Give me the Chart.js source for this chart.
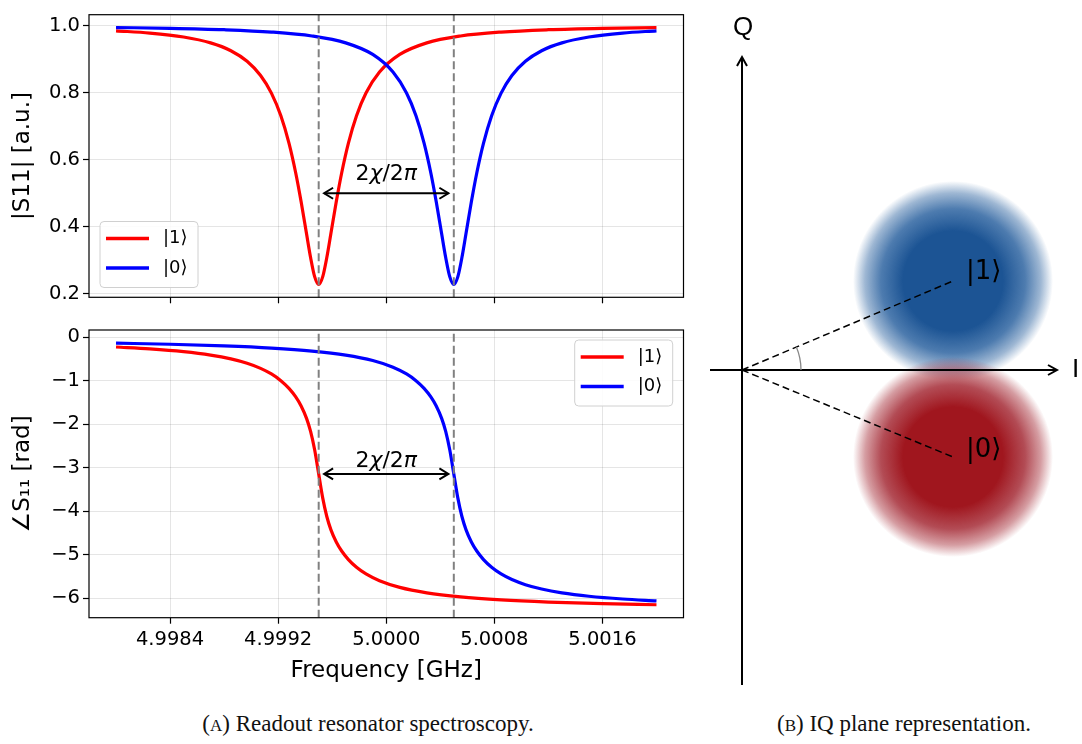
<!DOCTYPE html>
<html>
<head>
<meta charset="utf-8">
<script src="https://cdn.jsdelivr.net/npm/chart.js@4.4.1/dist/chart.umd.min.js"></script>
<style>
html,body{margin:0;padding:0;background:#fff;}
#wrap{position:relative;width:1082px;height:744px;overflow:hidden;background:#fff;}
canvas{position:absolute;}
.cap{position:absolute;font-family:"Liberation Serif","DejaVu Serif",serif;font-size:23px;line-height:23px;color:#111;white-space:nowrap;transform:translateX(-50%);}
.sc{font-size:17px;}
</style>
</head>
<body>
<div id="wrap">
  <canvas id="c1" width="700" height="312" style="left:0;top:0;width:700px;height:312px"></canvas>
  <canvas id="c2" width="700" height="388" style="left:0;top:312px;width:700px;height:388px"></canvas>
  <canvas id="c3" width="382" height="700" style="left:700px;top:0;width:382px;height:700px"></canvas>
  <div class="cap" style="left:368px;top:712px">(<span class="sc">A</span>) Readout resonator spectroscopy.</div>
  <div class="cap" style="left:904px;top:712px">(<span class="sc">B</span>) IQ plane representation.</div>
</div>
<script>
// ---------------- data ----------------
const freqRed = [4.99800,4.99825,4.99850,4.99870,4.99885,4.99897,4.99907,4.99915,4.99922,4.99928,4.99933,4.99937,4.99941,4.99944,4.99947,4.99950,4.99953,4.99956,4.99959,4.99963,4.99967,4.99972,4.99978,4.99985,4.99995,5.00010,5.00030,5.00055,5.00085,5.00120,5.00160,5.00200];
const magRed = [0.9845,0.9779,0.9661,0.9486,0.9252,0.8938,0.8514,0.7988,0.7311,0.6496,0.5605,0.4745,0.3791,0.3083,0.2513,0.2280,0.2513,0.3083,0.3791,0.4745,0.5605,0.6496,0.7311,0.7988,0.8615,0.9140,0.9486,0.9691,0.9809,0.9878,0.9920,0.9943];
const phaseRed = [-0.2231,-0.2666,-0.3309,-0.4092,-0.4966,-0.5964,-0.7136,-0.8428,-0.9967,-1.1738,-1.3704,-1.5788,-1.8629,-2.1634,-2.5866,-3.1416,-3.6966,-4.1198,-4.4203,-4.7044,-4.9128,-5.1094,-5.2865,-5.4404,-5.5963,-5.7493,-5.8740,-5.9674,-6.0359,-6.0859,-6.1232,-6.1485];

const freqBlue = [4.99800,4.99840,4.99880,4.99915,4.99945,4.99970,4.99990,5.00005,5.00015,5.00022,5.00028,5.00033,5.00037,5.00041,5.00044,5.00047,5.00050,5.00053,5.00056,5.00059,5.00063,5.00067,5.00072,5.00078,5.00085,5.00093,5.00103,5.00115,5.00130,5.00150,5.00175,5.00200];
const magBlue = [0.9943,0.9920,0.9878,0.9809,0.9691,0.9486,0.9140,0.8615,0.7988,0.7311,0.6496,0.5605,0.4745,0.3791,0.3083,0.2513,0.2280,0.2513,0.3083,0.3791,0.4745,0.5605,0.6496,0.7311,0.7988,0.8514,0.8938,0.9252,0.9486,0.9661,0.9779,0.9845];
const phaseBlue = [-0.1347,-0.1600,-0.1973,-0.2473,-0.3158,-0.4092,-0.5339,-0.6869,-0.8428,-0.9967,-1.1738,-1.3704,-1.5788,-1.8629,-2.1634,-2.5866,-3.1416,-3.6966,-4.1198,-4.4203,-4.7044,-4.9128,-5.1094,-5.2865,-5.4404,-5.5696,-5.6868,-5.7866,-5.8740,-5.9523,-6.0166,-6.0601];

const seriesLabels = ['|1⟩', '|0⟩'];           // red, blue
const resonances = [4.9995, 5.0005];             // dashed markers
const chiArrowFreqs = [4.99954, 5.00046];        // 2chi/2pi arrow ends
const chiArrowMag = 0.5, chiTextMag = 0.556;
const chiArrowPhase = -3.1416, chiTextPhase = -2.86;

const xTicks = [4.9984, 4.9992, 5.0000, 5.0008, 5.0016];
const magTicks = [0.2, 0.4, 0.6, 0.8, 1.0];
const phaseTicks = [0, -1, -2, -3, -4, -5, -6];

const X_MIN = 4.9978, X_MAX = 5.0022;
const MAG_MIN = 0.1897, MAG_MAX = 1.0326;
const PH_MIN = -6.446, PH_MAX = 0.168;

// IQ plane
const iqStateLabels = ['|1⟩', '|0⟩'];
const iqI = [2.11, 2.11];
const iqQ = [0.89, -0.87];
const blobRadius = 1.0;
const iqAxisI = [-0.32, 3.15];
const iqAxisQ = [-3.15, 3.13];
const IQ_X = [-0.42, 3.40], IQ_Y = [-3.30, 3.70];

// ---------------- helpers ----------------
const RED = '#ff0000', BLUE = '#0000ff', GRAY = '#808080';
const FONT = 'DejaVu Sans';
Chart.defaults.font.family = FONT;
Chart.defaults.color = '#000';
function pts(xs, ys) { return xs.map((x, i) => ({x: x, y: ys[i]})); }

function xScale(showLabels, height) {
  return {
    type: 'linear', min: X_MIN, max: X_MAX,
    afterBuildTicks: a => { a.ticks = xTicks.map(v => ({value: v})); },
    afterFit: s => { s.height = height; },
    grid: {color: 'rgba(0,0,0,0.1)', lineWidth: 1, tickColor: '#000', tickLength: 6, tickWidth: 1.2},
    border: {display: false},
    ticks: {autoSkip: false, maxRotation: 0, minRotation: 0, padding: 5, color: '#000',
      font: {family: FONT, size: 19.5},
      callback: v => showLabels ? Number(v).toFixed(4) : ''},
    title: showLabels ? {display: true, text: 'Frequency [GHz]', color: '#000',
      font: {family: FONT, size: 23}, padding: {top: 0, bottom: 15}} : {display: false}
  };
}
function yScale(min, max, ticks, fmt, title) {
  return {
    type: 'linear', min: min, max: max,
    afterBuildTicks: a => { a.ticks = ticks.map(v => ({value: v})); },
    afterFit: s => { s.width = 89; },
    grid: {color: 'rgba(0,0,0,0.1)', lineWidth: 1, tickColor: '#000', tickLength: 6, tickWidth: 1.2},
    border: {display: false},
    ticks: {autoSkip: false, padding: 3, color: '#000', font: {family: FONT, size: 19.5}, callback: fmt},
    title: {display: true, text: title, color: '#000', font: {family: FONT, size: 23}, padding: {top: 9, bottom: 0}}
  };
}
function vline(f, y0, y1) {
  return {label: '', data: [{x: f, y: y0}, {x: f, y: y1}], showLine: true,
    borderColor: GRAY, borderWidth: 2, borderDash: [8, 4], pointRadius: 0, order: 0};
}
function curve(label, xs, ys, color, order) {
  return {label: label, data: pts(xs, ys), showLine: true, borderColor: color, borderWidth: 3.2,
    pointRadius: 0, cubicInterpolationMode: 'monotone', borderJoinStyle: 'round', order: order};
}

function roundRect(ctx, x, y, w, h, r) {
  ctx.beginPath();
  ctx.moveTo(x + r, y); ctx.lineTo(x + w - r, y); ctx.arcTo(x + w, y, x + w, y + r, r);
  ctx.lineTo(x + w, y + h - r); ctx.arcTo(x + w, y + h, x + w - r, y + h, r);
  ctx.lineTo(x + r, y + h); ctx.arcTo(x, y + h, x, y + h - r, r);
  ctx.lineTo(x, y + r); ctx.arcTo(x, y, x + r, y, r); ctx.closePath();
}

const panelPlugin = {
  id: 'panel',
  afterDatasetsDraw(chart, args, opts) {
    const ctx = chart.ctx, a = chart.chartArea;
    const xs = chart.scales.x, ys = chart.scales.y;
    ctx.save();
    // frame
    ctx.strokeStyle = '#000'; ctx.lineWidth = 1.2;
    ctx.strokeRect(a.left, a.top, a.right - a.left, a.bottom - a.top);
    // double arrow 2chi/2pi
    const x1 = xs.getPixelForValue(chiArrowFreqs[0]), x2 = xs.getPixelForValue(chiArrowFreqs[1]);
    const y = ys.getPixelForValue(opts.arrowY);
    ctx.strokeStyle = '#000'; ctx.lineWidth = 2; ctx.lineJoin = 'miter';
    ctx.beginPath(); ctx.moveTo(x1, y); ctx.lineTo(x2, y); ctx.stroke();
    const L = 9, W = 5.5;
    ctx.beginPath(); ctx.moveTo(x1 + L, y - W); ctx.lineTo(x1, y); ctx.lineTo(x1 + L, y + W); ctx.stroke();
    ctx.beginPath(); ctx.moveTo(x2 - L, y - W); ctx.lineTo(x2, y); ctx.lineTo(x2 - L, y + W); ctx.stroke();
    // text pieces
    const ty = ys.getPixelForValue(opts.textY);
    const pieces = [['2', ''], ['χ', 'italic '], ['/2', ''], ['π', 'italic ']];
    let total = 0;
    pieces.forEach(p => { ctx.font = p[1] + '22px "DejaVu Sans"'; total += ctx.measureText(p[0]).width; });
    let tx = (x1 + x2) / 2 - total / 2;
    ctx.fillStyle = '#000'; ctx.textBaseline = 'middle'; ctx.textAlign = 'left';
    pieces.forEach(p => { ctx.font = p[1] + '22px "DejaVu Sans"'; ctx.fillText(p[0], tx, ty); tx += ctx.measureText(p[0]).width; });
    // legend
    const bw = 98, bh = 66;
    const bx = opts.legend.left != null ? a.left + opts.legend.left : a.right - opts.legend.right - bw;
    const by = opts.legend.top != null ? a.top + opts.legend.top : a.bottom - opts.legend.bottom - bh;
    roundRect(ctx, bx, by, bw, bh, 4);
    ctx.fillStyle = 'rgba(255,255,255,0.85)'; ctx.fill();
    ctx.strokeStyle = '#d0d0d0'; ctx.lineWidth = 1; ctx.stroke();
    seriesLabels.forEach((lab, i) => {
      const ds = chart.data.datasets.find(d => d.label === lab);
      const ry = by + 17 + i * 29.5;
      ctx.strokeStyle = ds.borderColor; ctx.lineWidth = 3.5;
      ctx.beginPath(); ctx.moveTo(bx + 6, ry); ctx.lineTo(bx + 49, ry); ctx.stroke();
      ctx.fillStyle = '#000'; ctx.font = '18px "DejaVu Sans"'; ctx.textBaseline = 'middle';
      ctx.fillText(lab, bx + 63, ry);
    });
    ctx.restore();
  }
};

// ---------------- top: |S11| ----------------
new Chart(document.getElementById('c1'), {
  type: 'scatter',
  data: {datasets: [
    vline(resonances[0], MAG_MIN, MAG_MAX),
    vline(resonances[1], MAG_MIN, MAG_MAX),
    curve(seriesLabels[1], freqBlue, magBlue, BLUE, 1),
    curve(seriesLabels[0], freqRed, magRed, RED, 2)
  ]},
  options: {
    responsive: false, animation: false, devicePixelRatio: 1, events: [],
    layout: {padding: {left: 0, top: 10.5, right: 16.5, bottom: 0}},
    scales: {
      x: xScale(false, 14.5),
      y: yScale(MAG_MIN, MAG_MAX, magTicks, v => Number(v).toFixed(1), '|S11| [a.u.]')
    },
    plugins: {legend: {display: false}, tooltip: {enabled: false},
      panel: {arrowY: chiArrowMag, textY: chiTextMag, legend: {left: 11, bottom: 9.8}}}
  },
  plugins: [panelPlugin]
});

// ---------------- bottom: phase ----------------
new Chart(document.getElementById('c2'), {
  type: 'scatter',
  data: {datasets: [
    vline(resonances[0], PH_MIN, PH_MAX),
    vline(resonances[1], PH_MIN, PH_MAX),
    curve(seriesLabels[1], freqBlue, phaseBlue, BLUE, 1),
    curve(seriesLabels[0], freqRed, phaseRed, RED, 2)
  ]},
  options: {
    responsive: false, animation: false, devicePixelRatio: 1, events: [],
    layout: {padding: {left: 0, top: 18, right: 16.5, bottom: 0}},
    scales: {
      x: xScale(true, 82.3),
      y: yScale(PH_MIN, PH_MAX, phaseTicks, v => (v === 0 ? '0' : '\u2212' + Math.abs(v)), '\u2220S\u2081\u2081 [rad]')
    },
    plugins: {legend: {display: false}, tooltip: {enabled: false},
      panel: {arrowY: chiArrowPhase, textY: chiTextPhase, legend: {right: 10.8, top: 10}}}
  },
  plugins: [panelPlugin]
});

// ---------------- IQ plane ----------------
function blobPx(chart) {
  const s = chart.scales && chart.scales.x;
  if (!s) return 0;
  const r = Math.abs(s.getPixelForValue(blobRadius) - s.getPixelForValue(0));
  return isFinite(r) ? r : 0;
}
function blobFill(c, rgb) {
  const chart = c.chart;
  const fallback = 'rgba(' + rgb[0] + ',1)';
  if (!c.raw || !chart.scales || !chart.scales.x || !chart.scales.y) return fallback;
  const cx = chart.scales.x.getPixelForValue(c.raw.x), cy = chart.scales.y.getPixelForValue(c.raw.y);
  const r = blobPx(chart);
  if (!isFinite(cx) || !isFinite(cy) || !(r > 0)) return fallback;
  const g = chart.ctx.createRadialGradient(cx, cy, 0, cx, cy, r);
  g.addColorStop(0.0, 'rgba(' + rgb[0] + ',1)');
  g.addColorStop(0.5, 'rgba(' + rgb[0] + ',1)');
  g.addColorStop(0.72, 'rgba(' + rgb[1] + ',0.92)');
  g.addColorStop(0.88, 'rgba(' + rgb[1] + ',0.5)');
  g.addColorStop(1.0, 'rgba(' + rgb[1] + ',0)');
  return g;
}
const iqPlugin = {
  id: 'iq',
  afterDatasetsDraw(chart) {
    const ctx = chart.ctx, xs = chart.scales.x, ys = chart.scales.y;
    const px = v => xs.getPixelForValue(v), py = v => ys.getPixelForValue(v);
    ctx.save();
    ctx.strokeStyle = '#000'; ctx.lineWidth = 2;
    const head = (x, y, ang) => {
      const L = 9, W = 5;
      const c = Math.cos(ang), s = Math.sin(ang);
      ctx.beginPath();
      ctx.moveTo(x - L * c + W * s, y - L * s - W * c);
      ctx.lineTo(x, y);
      ctx.lineTo(x - L * c - W * s, y - L * s + W * c);
      ctx.stroke();
    };
    head(px(iqAxisI[1]), py(0), 0);
    head(px(0), py(iqAxisQ[1]), -Math.PI / 2);
    // angle arc
    const ox = px(0), oy = py(0);
    const ang = Math.atan2(py(iqQ[0]) - oy, px(iqI[0]) - ox);
    ctx.strokeStyle = '#888'; ctx.lineWidth = 1.3;
    ctx.beginPath(); ctx.arc(ox, oy, Math.abs(px(0.59) - px(0)), ang, 0); ctx.stroke();
    // labels
    ctx.fillStyle = '#000'; ctx.textBaseline = 'middle';
    ctx.font = '26px "Liberation Sans"'; ctx.textAlign = 'center';
    ctx.fillText('Q', px(0.01), py(3.42));
    ctx.textAlign = 'left';
    ctx.fillText('I', px(3.30), py(0));
    ctx.font = '26px "DejaVu Sans"';
    iqStateLabels.forEach((lab, i) => {
      ctx.fillText(lab, px(iqI[i] + 0.13), py(iqQ[i] + (i === 0 ? 0.09 : 0.07)));
    });
    ctx.restore();
  }
};
new Chart(document.getElementById('c3'), {
  type: 'scatter',
  data: {datasets: [
    {label: 'I axis', data: [{x: iqAxisI[0], y: 0}, {x: iqAxisI[1], y: 0}], showLine: true, borderColor: '#000', borderWidth: 2, pointRadius: 0, order: 0},
    {label: 'Q axis', data: [{x: 0, y: iqAxisQ[0]}, {x: 0, y: iqAxisQ[1]}], showLine: true, borderColor: '#000', borderWidth: 2, pointRadius: 0, order: 0},
    {label: 'to1', data: [{x: 0, y: 0}, {x: iqI[0], y: iqQ[0]}], showLine: true, borderColor: '#000', borderWidth: 1.5, borderDash: [7, 4], pointRadius: 0, order: 1},
    {label: 'to0', data: [{x: 0, y: 0}, {x: iqI[1], y: iqQ[1]}], showLine: true, borderColor: '#000', borderWidth: 1.5, borderDash: [7, 4], pointRadius: 0, order: 1},
    {label: 'blob0', data: [{x: iqI[1], y: iqQ[1]}], showLine: false, order: 4,
      pointRadius: c => blobPx(c.chart), pointHoverRadius: c => blobPx(c.chart),
      pointBorderWidth: 0, pointBorderColor: 'rgba(0,0,0,0)',
      pointBackgroundColor: c => blobFill(c, ['160,22,30', '172,60,70'])},
    {label: 'blob1', data: [{x: iqI[0], y: iqQ[0]}], showLine: false, order: 5,
      pointRadius: c => blobPx(c.chart), pointHoverRadius: c => blobPx(c.chart),
      pointBorderWidth: 0, pointBorderColor: 'rgba(0,0,0,0)',
      pointBackgroundColor: c => blobFill(c, ['28,84,148', '62,112,168'])}
  ]},
  options: {
    responsive: false, animation: false, devicePixelRatio: 1, events: [],
    layout: {padding: 0},
    scales: {
      x: {type: 'linear', display: false, min: IQ_X[0], max: IQ_X[1]},
      y: {type: 'linear', display: false, min: IQ_Y[0], max: IQ_Y[1]}
    },
    plugins: {legend: {display: false}, tooltip: {enabled: false}}
  },
  plugins: [iqPlugin]
});
</script>
</body>
</html>
